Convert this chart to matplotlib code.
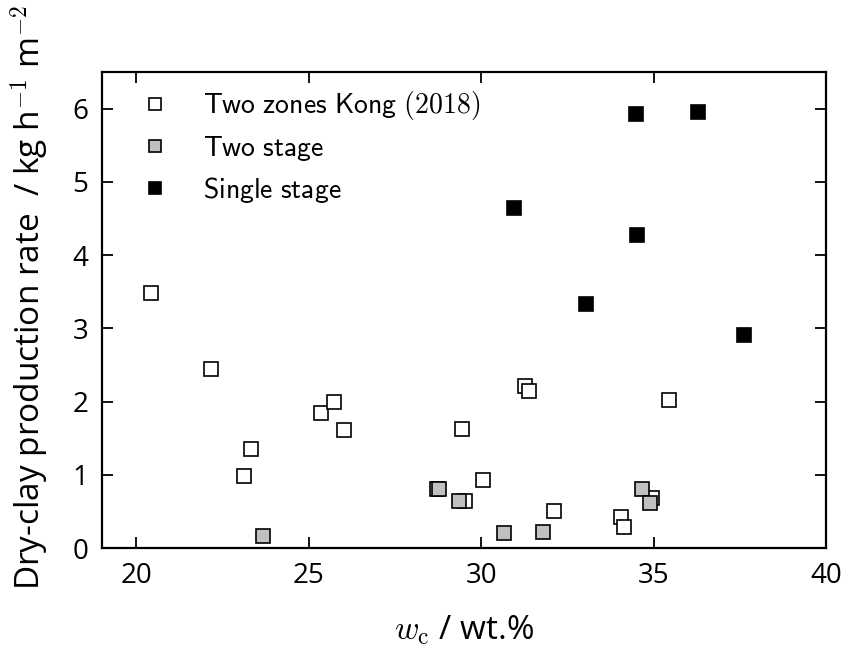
import matplotlib
matplotlib.use('Agg')
import matplotlib.pyplot as plt

plt.rcParams['font.family'] = ['Open Sans', 'DejaVu Sans']
plt.rcParams['mathtext.fontset'] = 'cm'

# Two zones Kong (2018) - open squares
kong_x = [20.43, 22.16, 23.31, 23.12, 25.35, 25.72, 26.01, 29.43, 30.04,
          31.26, 31.40, 32.12, 34.05, 34.14, 34.96, 35.44, 28.72, 29.52]
kong_y = [3.48, 2.45, 1.35, 0.99, 1.85, 1.99, 1.61, 1.62, 0.93,
          2.21, 2.15, 0.50, 0.43, 0.28, 0.68, 2.02, 0.81, 0.64]

# Two stage - grey squares
two_x = [23.66, 28.77, 29.35, 30.66, 31.80, 34.66, 34.89]
two_y = [0.16, 0.80, 0.64, 0.21, 0.22, 0.80, 0.62]

# Single stage - black squares
single_x = [34.49, 36.30, 30.96, 34.51, 33.04, 37.62]
single_y = [5.93, 5.95, 4.64, 4.27, 3.33, 2.91]

fig = plt.figure(figsize=(8.47, 6.57), dpi=100)
ax = fig.add_axes([0.1204, 0.1659, 0.8548, 0.7245])

ms = 9.5
ax.plot(kong_x, kong_y, 's', ms=ms, mfc='white', mec='black', mew=1.2,
        label=r'$\mathsf{Two\ zones\ Kong\ (2018)}$')
ax.plot(two_x, two_y, 's', ms=ms, mfc='#c0c0c0', mec='black', mew=1.2,
        label=r'$\mathsf{Two\ stage}$')
ax.plot(single_x, single_y, 's', ms=ms, mfc='black', mec='black', mew=1.2,
        label=r'$\mathsf{Single\ stage}$')

ax.set_xlim(19, 40)
ax.set_ylim(0, 6.5)
ax.set_xticks([20, 25, 30, 35, 40])
ax.set_yticks([0, 1, 2, 3, 4, 5, 6])

ax.tick_params(direction='in', length=8, width=1.3, labelsize=20,
               top=True, right=True, pad=10)
for s in ax.spines.values():
    s.set_linewidth(1.6)

ax.set_xlabel(r'$w_\mathrm{c}$ / wt.%', fontsize=24, labelpad=17)
fig.text(30 / 847, 1 - 297 / 657,
         r'Dry-clay production rate  / kg h$^{\mathsf{-1}}$ m$^{\mathsf{-2}}$',
         fontsize=24, rotation=90, ha='center', va='center')

leg = ax.legend(loc='upper left', bbox_to_anchor=(0.02, 0.987), frameon=False,
                fontsize=20, numpoints=1, handlelength=2.0, handletextpad=0.72,
                labelspacing=0.42, borderaxespad=0)
for h in leg.legend_handles:
    h.set_markersize(8.5)

fig.savefig('out.png', dpi=100)
